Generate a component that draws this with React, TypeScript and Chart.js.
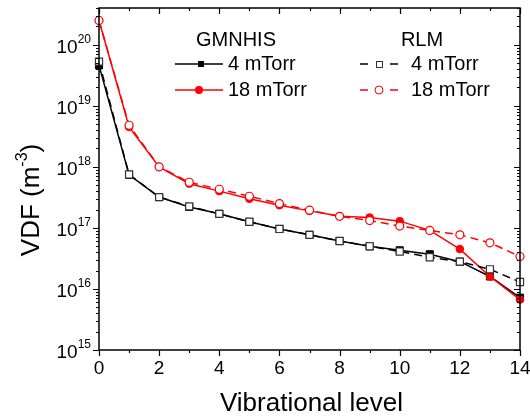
import React, { useEffect, useRef } from 'react';
import { Chart, registerables } from 'chart.js';

Chart.register(...registerables);

// ---- data ----
const levels = [0, 1, 2, 3, 4, 5, 6, 7, 8, 9, 10, 11, 12, 13, 14];
const gmnhis4 = [4.6e19, 7.4e17, 3.2e17, 2.2e17, 1.7e17, 1.26e17, 9.6e16, 7.7e16, 6.1e16, 5.0e16, 4.3e16, 3.7e16, 2.8e16, 1.6e16, 7.2e15];
const gmnhis18 = [2.5e20, 4.5e18, 1.0e18, 5.3e17, 4.0e17, 3.0e17, 2.35e17, 1.9e17, 1.55e17, 1.48e17, 1.29e17, 9.1e16, 4.5e16, 1.6e16, 6.7e15];
const rlm4 = [5.3e19, 7.5e17, 3.2e17, 2.25e17, 1.7e17, 1.26e17, 9.6e16, 7.7e16, 6.1e16, 5.0e16, 4.1e16, 3.3e16, 2.8e16, 2.1e16, 1.3e16];
const rlm18 = [2.5e20, 4.8e18, 1.0e18, 5.6e17, 4.3e17, 3.3e17, 2.5e17, 1.95e17, 1.55e17, 1.32e17, 1.07e17, 9.1e16, 7.7e16, 5.7e16, 3.4e16];

const xTickValues = [0, 2, 4, 6, 8, 10, 12, 14];
const yTickExponents = [15, 16, 17, 18, 19, 20];
const legendHeaders = ['GMNHIS', 'RLM'];
const pressureLabels = ['4 mTorr', '18 mTorr'];
const xTitle = 'Vibrational level';
const yTitleMain = 'VDF (m';
const yTitleSup = '-3';
const yTitleEnd = ')';

const FONT = '"Liberation Sans", Arial, Helvetica, sans-serif';
const RED = '#ff0000';
const BLACK = '#000000';

const toPoints = (arr: number[]) => levels.map((l, i) => ({ x: l, y: arr[i] }));

const decorPlugin = {
  id: 'decor',
  afterDraw(chart: any) {
    const { ctx, chartArea, scales } = chart;
    const { left, right, top, bottom } = chartArea;
    const xs = scales.x;
    const ys = scales.y;
    ctx.save();

    // frame
    ctx.strokeStyle = '#000';
    ctx.lineWidth = 1.5;
    ctx.strokeRect(left, top, right - left, bottom - top);

    // x ticks
    ctx.lineWidth = 1.2;
    for (let v = xs.min; v <= xs.max; v++) {
      const px = Math.round(xs.getPixelForValue(v)) + 0.5;
      const len = v % 2 === 0 ? 6 : 3;
      ctx.beginPath();
      ctx.moveTo(px, bottom);
      ctx.lineTo(px, bottom + len);
      ctx.moveTo(px, top);
      ctx.lineTo(px, top + len);
      ctx.stroke();
    }
    // y ticks
    for (const e of yTickExponents) {
      for (let k = 1; k <= 9; k++) {
        const val = k * Math.pow(10, e);
        if (val < ys.min || val > ys.max) continue;
        const py = Math.round(ys.getPixelForValue(val)) + 0.5;
        const len = k === 1 ? 6 : 3;
        ctx.beginPath();
        ctx.moveTo(left, py);
        ctx.lineTo(left - len, py);
        ctx.moveTo(right, py);
        ctx.lineTo(right - len, py);
        ctx.stroke();
      }
    }

    // x tick labels
    ctx.fillStyle = '#000';
    ctx.font = `19px ${FONT}`;
    ctx.textAlign = 'center';
    ctx.textBaseline = 'middle';
    for (const v of xTickValues) {
      ctx.fillText(String(v), xs.getPixelForValue(v), bottom + 19);
    }

    // y tick labels 10^e
    for (const e of yTickExponents) {
      const py = ys.getPixelForValue(Math.pow(10, e));
      const rightEdge = left - 8;
      ctx.font = `12px ${FONT}`;
      const expStr = String(e);
      const we = ctx.measureText(expStr).width;
      ctx.textAlign = 'left';
      ctx.textBaseline = 'alphabetic';
      ctx.fillText(expStr, rightEdge - we, py - 2);
      ctx.font = `19px ${FONT}`;
      ctx.textAlign = 'right';
      ctx.fillText('10', rightEdge - we, py + 8);
    }

    // x title
    ctx.font = `26px ${FONT}`;
    ctx.textAlign = 'center';
    ctx.textBaseline = 'middle';
    ctx.fillText(xTitle, (left + right) / 2 + 2, 404);

    // y title (rotated)
    ctx.save();
    ctx.translate(32, 200);
    ctx.rotate(-Math.PI / 2);
    ctx.font = `26px ${FONT}`;
    const w1 = ctx.measureText(yTitleMain).width;
    const w3 = ctx.measureText(yTitleEnd).width;
    ctx.font = `16px ${FONT}`;
    const w2 = ctx.measureText(yTitleSup).width;
    const total = w1 + w2 + w3;
    let cx = -total / 2;
    ctx.textAlign = 'left';
    ctx.textBaseline = 'middle';
    ctx.font = `26px ${FONT}`;
    ctx.fillText(yTitleMain, cx, 0);
    cx += w1;
    ctx.font = `16px ${FONT}`;
    ctx.fillText(yTitleSup, cx, -9);
    cx += w2;
    ctx.font = `26px ${FONT}`;
    ctx.fillText(yTitleEnd, cx, 0);
    ctx.restore();

    // legend
    ctx.font = `20px ${FONT}`;
    ctx.textAlign = 'center';
    ctx.textBaseline = 'middle';
    ctx.fillStyle = '#000';
    ctx.fillText(legendHeaders[0], 236, 40);
    ctx.fillText(legendHeaders[1], 422, 40);

    const rowY = [64, 90];
    const colors = [BLACK, RED];
    ctx.textAlign = 'left';
    for (let r = 0; r < 2; r++) {
      const yy = rowY[r];
      const c = colors[r];
      // GMNHIS sample
      ctx.strokeStyle = c;
      ctx.lineWidth = 1.5;
      ctx.setLineDash([]);
      ctx.beginPath();
      ctx.moveTo(175, yy);
      ctx.lineTo(223, yy);
      ctx.stroke();
      ctx.fillStyle = c;
      if (r === 0) {
        ctx.fillRect(198, yy - 3, 6, 6);
      } else {
        ctx.beginPath();
        ctx.arc(199, yy, 4, 0, Math.PI * 2);
        ctx.fill();
      }
      // RLM sample
      ctx.beginPath();
      ctx.moveTo(360, yy);
      ctx.lineTo(368, yy);
      ctx.moveTo(390, yy);
      ctx.lineTo(398, yy);
      ctx.stroke();
      ctx.fillStyle = '#fff';
      ctx.lineWidth = 1;
      if (r === 0) {
        ctx.strokeStyle = '#333';
        ctx.fillRect(376, yy - 3, 6, 6);
        ctx.strokeRect(376.5, yy - 2.5, 6, 6);
      } else {
        ctx.beginPath();
        ctx.arc(379, yy, 4, 0, Math.PI * 2);
        ctx.fill();
        ctx.stroke();
      }
      ctx.fillStyle = '#000';
      ctx.font = `20px ${FONT}`;
      ctx.fillText(pressureLabels[r], 228, yy);
      ctx.fillText(pressureLabels[r], 411, yy);
    }

    ctx.restore();
  },
};

export default function App() {
  const canvasRef = useRef<HTMLCanvasElement | null>(null);

  useEffect(() => {
    if (!canvasRef.current) return;
    const chart = new Chart(canvasRef.current, {
      type: 'line',
      data: {
        datasets: [
          {
            label: 'RLM 18 mTorr',
            data: toPoints(rlm18),
            borderColor: RED,
            borderWidth: 1.5,
            borderDash: [8, 5],
            pointStyle: 'circle',
            pointRadius: 4,
            pointBackgroundColor: '#fff',
            pointBorderColor: RED,
            pointBorderWidth: 1.2,
            order: 0,
            clip: false,
          },
          {
            label: 'RLM 4 mTorr',
            data: toPoints(rlm4),
            borderColor: BLACK,
            borderWidth: 1.5,
            borderDash: [8, 5],
            pointStyle: 'rect',
            pointRadius: 5,
            pointBackgroundColor: '#fff',
            pointBorderColor: '#333',
            pointBorderWidth: 1.2,
            order: 1,
            clip: false,
          },
          {
            label: 'GMNHIS 18 mTorr',
            data: toPoints(gmnhis18),
            borderColor: RED,
            borderWidth: 1.5,
            pointStyle: 'circle',
            pointRadius: 3.8,
            pointBackgroundColor: RED,
            pointBorderColor: RED,
            pointBorderWidth: 1,
            order: 2,
            clip: false,
          },
          {
            label: 'GMNHIS 4 mTorr',
            data: toPoints(gmnhis4),
            borderColor: BLACK,
            borderWidth: 1.5,
            pointStyle: 'rect',
            pointRadius: 5,
            pointBackgroundColor: BLACK,
            pointBorderColor: BLACK,
            pointBorderWidth: 1,
            order: 3,
            clip: false,
          },
        ],
      },
      options: {
        animation: false,
        responsive: false,
        devicePixelRatio: 1,
        layout: { padding: { left: 99, top: 8, right: 10, bottom: 70 } },
        scales: {
          x: { type: 'linear', min: 0, max: 14, display: false },
          y: { type: 'logarithmic', min: 1e15, max: 4e20, display: false },
        },
        plugins: {
          legend: { display: false },
          tooltip: { enabled: false },
        },
        elements: { line: { tension: 0 } },
      },
      plugins: [decorPlugin],
    } as any);
    return () => chart.destroy();
  }, []);

  return (
    <div style={{ position: 'absolute', left: 0, top: 0, width: 530, height: 420, background: '#fff' }}>
      <canvas ref={canvasRef} width={530} height={420} />
    </div>
  );
}
